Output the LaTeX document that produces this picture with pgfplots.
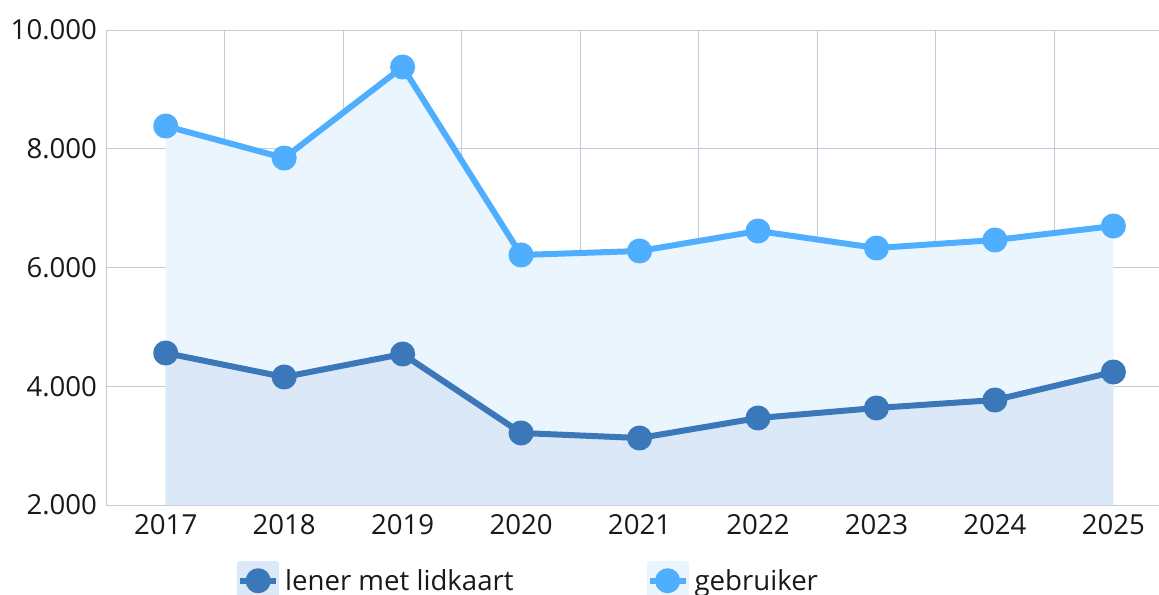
\documentclass[border=0pt]{standalone}
\usepackage{fontspec}
\setmainfont{Open Sans}
\usepackage{pgfplots}
\pgfplotsset{compat=1.18}
\definecolor{geb}{RGB}{80,174,255}
\definecolor{len}{RGB}{58,120,186}
\definecolor{gebfill}{RGB}{234,245,254}
\definecolor{lenfill}{RGB}{218,232,247}
\definecolor{gridc}{RGB}{192,202,216}
\pgfplotstableread{
year gebruiker lener
2017 8383 4560
2018 7844 4156
2019 9377 4543
2020 6211 3213
2021 6278 3128
2022 6615 3465
2023 6328 3634
2024 6463 3768
2025 6699 4240
}\data
\begin{document}
\begin{tikzpicture}
\begin{axis}[
  scale only axis, width=1052.5bp, height=475bp,
  xmin=2016.5, xmax=2025.385, ymin=2000, ymax=10000,
  axis x line*=bottom, axis y line*=left,
  axis line style={-, draw=gridc, line width=1bp},
  xtick={2017,2018,2019,2020,2021,2022,2023,2024,2025},
  xticklabels={2017,2018,2019,2020,2021,2022,2023,2024,2025},
  minor xtick={2017.5,2018.5,2019.5,2020.5,2021.5,2022.5,2023.5,2024.5},
  ytick={2000,4000,6000,8000,10000},
  yticklabels={2.000,4.000,6.000,8.000,10.000},
  scaled y ticks=false,
  xminorgrids, ymajorgrids,
  major grid style={draw=gridc, line width=1bp},
  minor grid style={draw=gridc, line width=1bp},
  major tick length=0pt, minor tick length=0pt,
  tick label style={font=\fontsize{27.7}{32}\selectfont, text=black!90},
  xticklabel style={yshift=-6bp},
  yticklabel style={xshift=-6bp},
  legend style={draw=none, fill=none, at={(axis description cs:0.124,-0.118)}, anchor=north west,
    font=\fontsize{27.7}{32}\selectfont, text=black!90, inner xsep=0pt, inner ysep=0pt},
  legend columns=2,
  legend cell align=left,
  /tikz/every odd column/.append style={column sep=4bp},
  /tikz/every even column/.append style={column sep=131bp},
]
\addplot[draw=none, fill=gebfill, forget plot] table[x=year, y=gebruiker] {\data} \closedcycle;
\addplot[draw=none, fill=lenfill, forget plot] table[x=year, y=lener] {\data} \closedcycle;
\addplot[len, line width=6bp, line join=round, mark=*, mark size=9.5bp, mark options={draw=none, fill=len},
  legend image code/.code={\fill[lenfill] (0bp,-16.5bp) rectangle (36bp,16.5bp);
    \draw[len, line width=6bp] (0bp,0bp) -- (36bp,0bp);
    \fill[len] (18bp,0bp) circle (9.5bp);}]
  table[x=year, y=lener] {\data};
\addlegendentry{lener met lidkaart}
\addplot[geb, line width=6bp, line join=round, mark=*, mark size=9.5bp, mark options={draw=none, fill=geb},
  legend image code/.code={\fill[gebfill] (0bp,-16.5bp) rectangle (36bp,16.5bp);
    \draw[geb, line width=6bp] (0bp,0bp) -- (36bp,0bp);
    \fill[geb] (18bp,0bp) circle (9.5bp);}]
  table[x=year, y=gebruiker] {\data};
\addlegendentry{gebruiker}
\end{axis}
\pgfresetboundingbox
\path[use as bounding box] (-106.5bp,-90bp) rectangle (1052.5bp,505bp);
\end{tikzpicture}
\end{document}
